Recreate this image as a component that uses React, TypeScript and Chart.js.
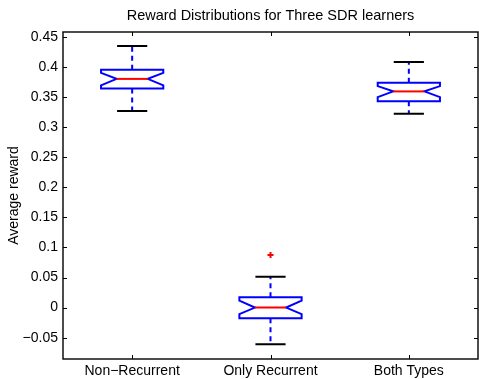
import { useEffect, useRef } from 'react';
import { Chart, registerables } from 'chart.js';

Chart.register(...registerables);

const categories = ['Non\u2212Recurrent', 'Only Recurrent', 'Both Types'];
const lowerWhisker = [0.327, -0.061, 0.3223];
const q1 = [0.3645, -0.0177, 0.3433];
const notchLow = [0.3695, -0.011, 0.35];
const median = [0.3803, 0.0, 0.3595];
const notchHigh = [0.3903, 0.0117, 0.3683];
const q3 = [0.3955, 0.0173, 0.374];
const upperWhisker = [0.435, 0.0512, 0.4083];
const outlierX = [2];
const outlierY = [0.0873];
const yTicks = [-0.05, 0, 0.05, 0.1, 0.15, 0.2, 0.25, 0.3, 0.35, 0.4, 0.45];
const yMin = -0.0855;
const yMax = 0.4583;

const FONT = '"Liberation Sans", Arial, Helvetica, sans-serif';
const BLUE = '#0000ff';
const RED = '#ff0000';

const boxPlugin = {
  id: 'notchedBoxes',
  afterDatasetsDraw(chart: any) {
    const { ctx, scales } = chart;
    const x = scales.x;
    const y = scales.y;
    const unit = x.getPixelForValue(2) - x.getPixelForValue(1);
    const hw = unit * 0.225;
    const nw = hw / 2;
    const cw = unit * 0.109;
    const py = (v: number) => y.getPixelForValue(v);
    ctx.save();
    categories.forEach((_, i) => {
      const cx = x.getPixelForValue(i + 1);
      ctx.strokeStyle = BLUE;
      ctx.lineWidth = 2;
      ctx.setLineDash([5, 4]);
      ctx.beginPath();
      ctx.moveTo(cx, py(q3[i]));
      ctx.lineTo(cx, py(upperWhisker[i]));
      ctx.moveTo(cx, py(q1[i]));
      ctx.lineTo(cx, py(lowerWhisker[i]));
      ctx.stroke();
      ctx.setLineDash([]);
      ctx.strokeStyle = '#000';
      ctx.beginPath();
      ctx.moveTo(cx - cw, py(upperWhisker[i]));
      ctx.lineTo(cx + cw, py(upperWhisker[i]));
      ctx.moveTo(cx - cw, py(lowerWhisker[i]));
      ctx.lineTo(cx + cw, py(lowerWhisker[i]));
      ctx.stroke();
      ctx.strokeStyle = BLUE;
      ctx.lineJoin = 'miter';
      ctx.beginPath();
      ctx.moveTo(cx - hw, py(q3[i]));
      ctx.lineTo(cx + hw, py(q3[i]));
      ctx.lineTo(cx + hw, py(notchHigh[i]));
      ctx.lineTo(cx + nw, py(median[i]));
      ctx.lineTo(cx + hw, py(notchLow[i]));
      ctx.lineTo(cx + hw, py(q1[i]));
      ctx.lineTo(cx - hw, py(q1[i]));
      ctx.lineTo(cx - hw, py(notchLow[i]));
      ctx.lineTo(cx - nw, py(median[i]));
      ctx.lineTo(cx - hw, py(notchHigh[i]));
      ctx.closePath();
      ctx.stroke();
      ctx.strokeStyle = RED;
      ctx.beginPath();
      ctx.moveTo(cx - nw, py(median[i]));
      ctx.lineTo(cx + nw, py(median[i]));
      ctx.stroke();
    });
    ctx.restore();
  },
  afterDraw(chart: any) {
    const { ctx, chartArea, scales } = chart;
    const { left, right, top, bottom } = chartArea;
    ctx.save();
    ctx.strokeStyle = '#000';
    ctx.lineWidth = 1.4;
    ctx.strokeRect(left, top, right - left, bottom - top);
    ctx.lineWidth = 1;
    const tl = 4;
    ctx.beginPath();
    scales.x.ticks.forEach((t: any) => {
      const px = Math.round(scales.x.getPixelForValue(t.value)) + 0.5;
      ctx.moveTo(px, bottom);
      ctx.lineTo(px, bottom - tl);
      ctx.moveTo(px, top);
      ctx.lineTo(px, top + tl);
    });
    scales.y.ticks.forEach((t: any) => {
      const pyv = Math.round(scales.y.getPixelForValue(t.value)) + 0.5;
      ctx.moveTo(left, pyv);
      ctx.lineTo(left + tl, pyv);
      ctx.moveTo(right, pyv);
      ctx.lineTo(right - tl, pyv);
    });
    ctx.stroke();
    ctx.restore();
  },
};

export default function App() {
  const ref = useRef<HTMLCanvasElement>(null);
  useEffect(() => {
    const chart = new Chart(ref.current as HTMLCanvasElement, {
      type: 'scatter',
      data: {
        datasets: [
          {
            data: outlierX.map((xv, i) => ({ x: xv, y: outlierY[i] })),
            pointStyle: 'cross',
            radius: 3,
            borderColor: RED,
            backgroundColor: RED,
            borderWidth: 2,
          },
        ],
      },
      options: {
        animation: false,
        responsive: false,
        events: [],
        layout: { autoPadding: false, padding: { left: 0, right: 1, top: 0, bottom: 0 } },
        plugins: {
          legend: { display: false },
          tooltip: { enabled: false },
          title: {
            display: true,
            fullSize: false,
            text: 'Reward Distributions for Three SDR learners',
            color: '#000',
            font: { family: FONT, size: 14.5, weight: 'normal' },
            padding: { top: 7, bottom: 7.6 },
          },
        },
        scales: {
          x: {
            type: 'linear',
            min: 0.5,
            max: 3.5,
            grid: { display: false, drawTicks: false },
            border: { display: false },
            afterBuildTicks: (s: any) => {
              s.ticks = categories.map((_, i) => ({ value: i + 1 }));
            },
            afterFit: (s: any) => {
              s.height = 20;
              s.paddingLeft = 0;
              s.paddingRight = 0;
            },
            ticks: {
              color: '#000',
              padding: 4,
              maxRotation: 0,
              autoSkip: false,
              font: { family: FONT, size: 14 },
              callback: (v: any) => categories[Math.round(Number(v)) - 1] ?? '',
            },
          },
          y: {
            type: 'linear',
            min: yMin,
            max: yMax,
            grid: { display: false, drawTicks: false },
            border: { display: false },
            afterBuildTicks: (s: any) => {
              s.ticks = yTicks.map((v) => ({ value: v }));
            },
            afterFit: (s: any) => {
              s.width = 63;
              s.paddingTop = 0;
              s.paddingBottom = 0;
            },
            title: {
              display: true,
              text: 'Average reward',
              color: '#000',
              font: { family: FONT, size: 14 },
              padding: { top: 6, bottom: 0 },
            },
            ticks: {
              color: '#000',
              padding: 5,
              autoSkip: false,
              font: { family: FONT, size: 14 },
              callback: (v: any) => {
                const n = Number(v);
                const s = String(Math.abs(n));
                return n < 0 ? '\u2212' + s : s;
              },
            },
          },
        },
      },
      plugins: [boxPlugin],
    } as any);
    return () => chart.destroy();
  }, []);
  return (
    <div style={{ position: 'fixed', left: 0, top: 0, width: 479, height: 379 }}>
      <canvas ref={ref} width={479} height={379} style={{ display: 'block' }} />
    </div>
  );
}
